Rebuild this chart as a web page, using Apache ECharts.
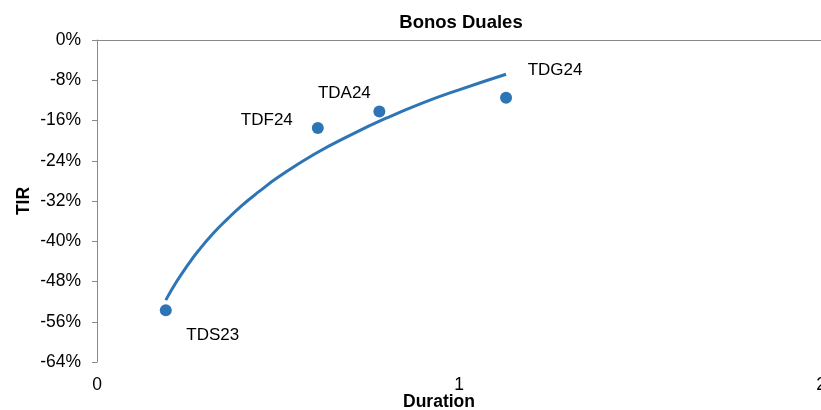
<!DOCTYPE html>
<html>
<head>
<meta charset="utf-8">
<script src="https://cdn.jsdelivr.net/npm/echarts@6/dist/echarts.min.js"></script>
<style>
html,body{margin:0;padding:0;background:#fff;}
#chart{width:821px;height:410px;}
</style>
</head>
<body>
<div id="chart"></div>
<script>
// ---- data ----
const bondNames = ['TDS23', 'TDF24', 'TDA24', 'TDG24'];
const durations = [0.19, 0.61, 0.78, 1.13];
const tirValues = [-53.7, -17.5, -14.2, -11.5];
// trend line
const trendX = [0.19, 0.22, 0.25, 0.28, 0.32, 0.36, 0.40, 0.45, 0.50, 0.60, 0.70, 0.80, 0.90, 1.00, 1.13];
const trendY = [-51.7, -48.0, -44.8, -41.9, -38.5, -35.6, -32.9, -30.0, -27.3, -22.7, -18.9, -15.5, -12.5, -9.9, -6.8];
const yTicks = [0, -8, -16, -24, -32, -40, -48, -56, -64];
const xTicks = [0, 1, 2];

// ---- styles ----
const FONT = '"Liberation Sans", Arial, Helvetica, sans-serif';
const BLUE = '#2E75B6';
const labelOffsets = [[47, 25], [-51, -8], [-35, -18], [49, -28]];

const chart = echarts.init(document.getElementById('chart'), null, {renderer: 'canvas'});

const pointData = bondNames.map((n, i) => ({
  name: n,
  value: [durations[i], tirValues[i]],
  label: {offset: labelOffsets[i]}
}));

const option = {
  animation: false,
  backgroundColor: '#fff',
  title: {
    text: 'Bonos Duales',
    left: 456,
    top: 8,
    textAlign: 'center',
    textStyle: {fontFamily: FONT, fontSize: 18.5, fontWeight: 'bold', color: '#000'}
  },
  grid: {left: 97, right: 0, top: 40, bottom: 48, containLabel: false, outerBoundsMode: 'none'},
  xAxis: [{
    type: 'value',
    min: xTicks[0], max: xTicks[xTicks.length - 1], interval: 1,
    position: 'bottom',
    axisLine: {show: false},
    axisTick: {show: false},
    splitLine: {show: false},
    axisLabel: {
      margin: 14, color: '#000', fontFamily: FONT, fontSize: 17.5,
      showMaxLabel: true, showMinLabel: true
    },
    name: 'Duration',
    nameLocation: 'middle',
    nameGap: 31,
    nameMoveOverlap: false,
    nameTextStyle: {fontFamily: FONT, fontSize: 17.5, fontWeight: 'bold', color: '#000', padding: [0, 40, 0, 0]}
  }, {
    type: 'value',
    min: xTicks[0], max: xTicks[xTicks.length - 1], interval: 1,
    position: 'top',
    axisLine: {show: true, onZero: false, lineStyle: {color: '#898989', width: 1}},
    axisTick: {show: false},
    axisLabel: {show: false},
    splitLine: {show: false}
  }],
  yAxis: {
    type: 'value',
    min: yTicks[yTicks.length - 1], max: yTicks[0], interval: 8,
    axisLine: {show: true, onZero: false, lineStyle: {color: '#898989', width: 1}},
    axisTick: {show: true, length: 5, lineStyle: {color: '#898989'}},
    splitLine: {show: false},
    axisLabel: {
      margin: 16, color: '#000', fontFamily: FONT, fontSize: 17.5,
      formatter: v => v + '%'
    },
    name: 'TIR',
    nameLocation: 'middle',
    nameRotate: 90,
    nameGap: 64,
    nameMoveOverlap: false,
    nameTextStyle: {fontFamily: FONT, fontSize: 17.5, fontWeight: 'bold', color: '#000'}
  },
  series: [{
    type: 'line',
    name: 'trend',
    xAxisIndex: 0,
    data: trendX.map((x, i) => [x, trendY[i]]),
    smooth: true,
    showSymbol: false,
    lineStyle: {color: BLUE, width: 3},
    z: 2
  }, {
    type: 'scatter',
    name: 'Bonos',
    xAxisIndex: 0,
    data: pointData,
    symbol: 'circle',
    symbolSize: 12,
    itemStyle: {color: BLUE, opacity: 1},
    label: {
      show: true,
      position: 'inside',
      formatter: p => p.name,
      color: '#000',
      fontFamily: FONT,
      fontSize: 17
    },
    z: 3
  }]
};
chart.setOption(option);
</script>
</body>
</html>
